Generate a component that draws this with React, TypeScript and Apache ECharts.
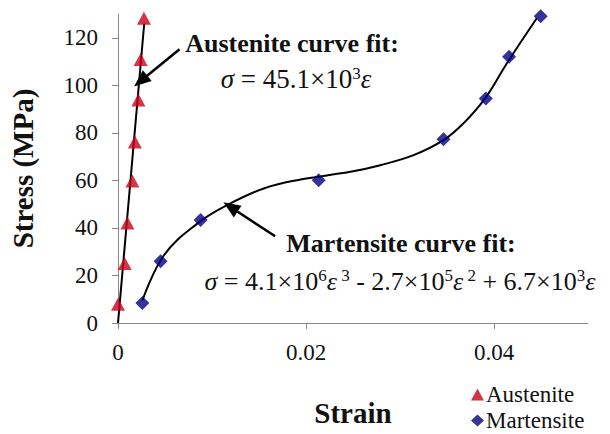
import React, { useEffect, useRef } from "react";
import * as echarts from "echarts";

// Measured points: strain (–) vs stress (MPa)
const austeniteStrain = [0, 0.00071, 0.001, 0.00153, 0.0018, 0.00217, 0.00241, 0.00276];
const austeniteStress = [7.9, 25.0, 42.1, 59.7, 76.2, 93.8, 110.9, 128.2];

const martensiteStrain = [0.00259, 0.00453, 0.00879, 0.02135, 0.03463, 0.03913, 0.0416, 0.04497];
const martensiteStress = [8.4, 26.0, 43.3, 60.1, 77.3, 94.5, 112.0, 129.1];

// Trend lines as plotted
const austeniteFitStrain = [0, 0.00279];
const austeniteFitStress = [0, 126];

const martensiteFitStrain = [
  0.0026, 0.00489, 0.00843, 0.01162, 0.0155, 0.01905, 0.02472, 0.0279, 0.03144, 0.03463,
  0.03675, 0.03905, 0.04136, 0.04455,
];
const martensiteFitStress = [
  9.5, 28.5, 41.8, 49.6, 56.6, 60.1, 63.6, 66.4, 70.6, 76.9, 84.0, 94.5, 109.2, 128.2,
];

const xTicks = [0, 0.02, 0.04];
const yTicks = [0, 20, 40, 60, 80, 100, 120];

const zip = (a: number[], b: number[]) => a.map((v, i) => [v, b[i]]);

const SERIF = "Liberation Serif";
const AXIS_GRAY = "#888888";
const INK = "#111111";

export default function App() {
  const ref = useRef<HTMLDivElement>(null);

  useEffect(() => {
    if (!ref.current) return;
    document.body.style.margin = "0";
    const chart = echarts.init(ref.current, null, { renderer: "svg" });

    const eqStyles = {
      n: { fontFamily: SERIF, fontSize: 26, fill: INK, lineHeight: 28 },
      i: { fontFamily: SERIF, fontSize: 26, fontStyle: "italic", fill: INK, lineHeight: 28 },
      s: { fontFamily: SERIF, fontSize: 17, fill: INK, lineHeight: 28, verticalAlign: "top" },
    };

    const legendText = {
      fontFamily: SERIF,
      fontSize: 23,
      lineHeight: 22,
      color: INK,
      padding: [0, 0, 0, -3],
    };

    chart.setOption({
      animation: false,
      backgroundColor: "#ffffff",
      grid: { left: 117, right: 22, top: 14, bottom: 111, containLabel: false },
      xAxis: {
        type: "value",
        min: 0,
        max: 0.05,
        interval: 0.01,
        splitLine: { show: false },
        axisLine: { lineStyle: { color: AXIS_GRAY, width: 1 } },
        axisTick: {
          show: true,
          length: 6,
          customValues: xTicks,
          lineStyle: { color: AXIS_GRAY },
        },
        axisLabel: {
          customValues: xTicks,
          margin: 18,
          fontFamily: SERIF,
          fontSize: 23,
          color: INK,
          formatter: (v: number) => String(v),
        },
        name: "Strain",
        nameLocation: "middle",
        nameGap: 75,
        nameTextStyle: { fontFamily: SERIF, fontSize: 29, fontWeight: "bold", color: INK },
      },
      yAxis: {
        type: "value",
        min: 0,
        max: 130,
        interval: 10,
        splitLine: { show: false },
        axisLine: { show: true, lineStyle: { color: AXIS_GRAY, width: 1 } },
        axisTick: {
          show: true,
          length: 6,
          customValues: yTicks,
          lineStyle: { color: AXIS_GRAY },
        },
        axisLabel: {
          customValues: yTicks,
          margin: 20,
          fontFamily: SERIF,
          fontSize: 23,
          color: INK,
        },
        name: "Stress (MPa)",
        nameLocation: "middle",
        nameGap: 81,
        nameTextStyle: { fontFamily: SERIF, fontSize: 29, fontWeight: "bold", color: INK },
      },
      legend: [
        {
          left: 471,
          top: 383,
          itemWidth: 13,
          itemHeight: 12,
          padding: 0,
          itemGap: 0,
          data: ["Austenite"],
          textStyle: legendText,
        },
        {
          left: 471,
          top: 409,
          itemWidth: 13,
          itemHeight: 12,
          padding: 0,
          itemGap: 0,
          data: ["Martensite"],
          textStyle: legendText,
        },
      ],
      series: [
        {
          name: "Austenite fit",
          type: "line",
          data: zip(austeniteFitStrain, austeniteFitStress),
          symbol: "none",
          lineStyle: { color: "#000", width: 2 },
          z: 2,
          markLine: {
            silent: true,
            symbol: ["none", "triangle"],
            symbolSize: [14, 17],
            label: { show: false },
            lineStyle: { color: "#000", width: 2.5, type: "solid" },
            data: [
              [{ coord: [0.00655, 115.2] }, { coord: [0.00241, 101.8] }],
              [{ coord: [0.01672, 36.5] }, { coord: [0.01197, 48.8] }],
            ],
          },
        },
        {
          name: "Martensite fit",
          type: "line",
          data: zip(martensiteFitStrain, martensiteFitStress),
          symbol: "none",
          smooth: 0.4,
          lineStyle: { color: "#000", width: 2 },
          z: 2,
        },
        {
          name: "Austenite",
          type: "scatter",
          data: zip(austeniteStrain, austeniteStress),
          symbol: "triangle",
          symbolSize: [14, 13],
          itemStyle: { color: "#CC0018" },
          z: 3,
        },
        {
          name: "Martensite",
          type: "scatter",
          data: zip(martensiteStrain, martensiteStress),
          symbol: "diamond",
          symbolSize: [14, 14],
          itemStyle: { color: "#000080" },
          z: 3,
        },
      ],
      graphic: [
        {
          type: "text",
          x: 292,
          y: 43,
          style: {
            text: "Austenite curve fit:",
            fontFamily: SERIF,
            fontSize: 26,
            fontWeight: "bold",
            fill: INK,
            align: "center",
            verticalAlign: "middle",
          },
        },
        {
          type: "text",
          x: 296,
          y: 79,
          style: {
            text: "{i|σ}{n| = 45.1×10}{s|3}{i|ε}",
            rich: {
              ...eqStyles,
              n: { ...eqStyles.n, fontSize: 27 },
              i: { ...eqStyles.i, fontSize: 27 },
            },
            align: "center",
            verticalAlign: "middle",
          },
        },
        {
          type: "text",
          x: 401,
          y: 243,
          style: {
            text: "Martensite curve fit:",
            fontFamily: SERIF,
            fontSize: 26,
            fontWeight: "bold",
            fill: INK,
            align: "center",
            verticalAlign: "middle",
          },
        },
        {
          type: "text",
          x: 400,
          y: 281,
          style: {
            text:
              "{i|σ}{n| = 4.1×10}{s|6}{i|ε}{s| 3}{n| - 2.7×10}{s|5}{i|ε}{s| 2}{n| + 6.7×10}{s|3}{i|ε}",
            rich: eqStyles,
            align: "center",
            verticalAlign: "middle",
          },
        },
      ],
    });

    return () => chart.dispose();
  }, []);

  return <div ref={ref} style={{ width: 610, height: 434 }} />;
}
